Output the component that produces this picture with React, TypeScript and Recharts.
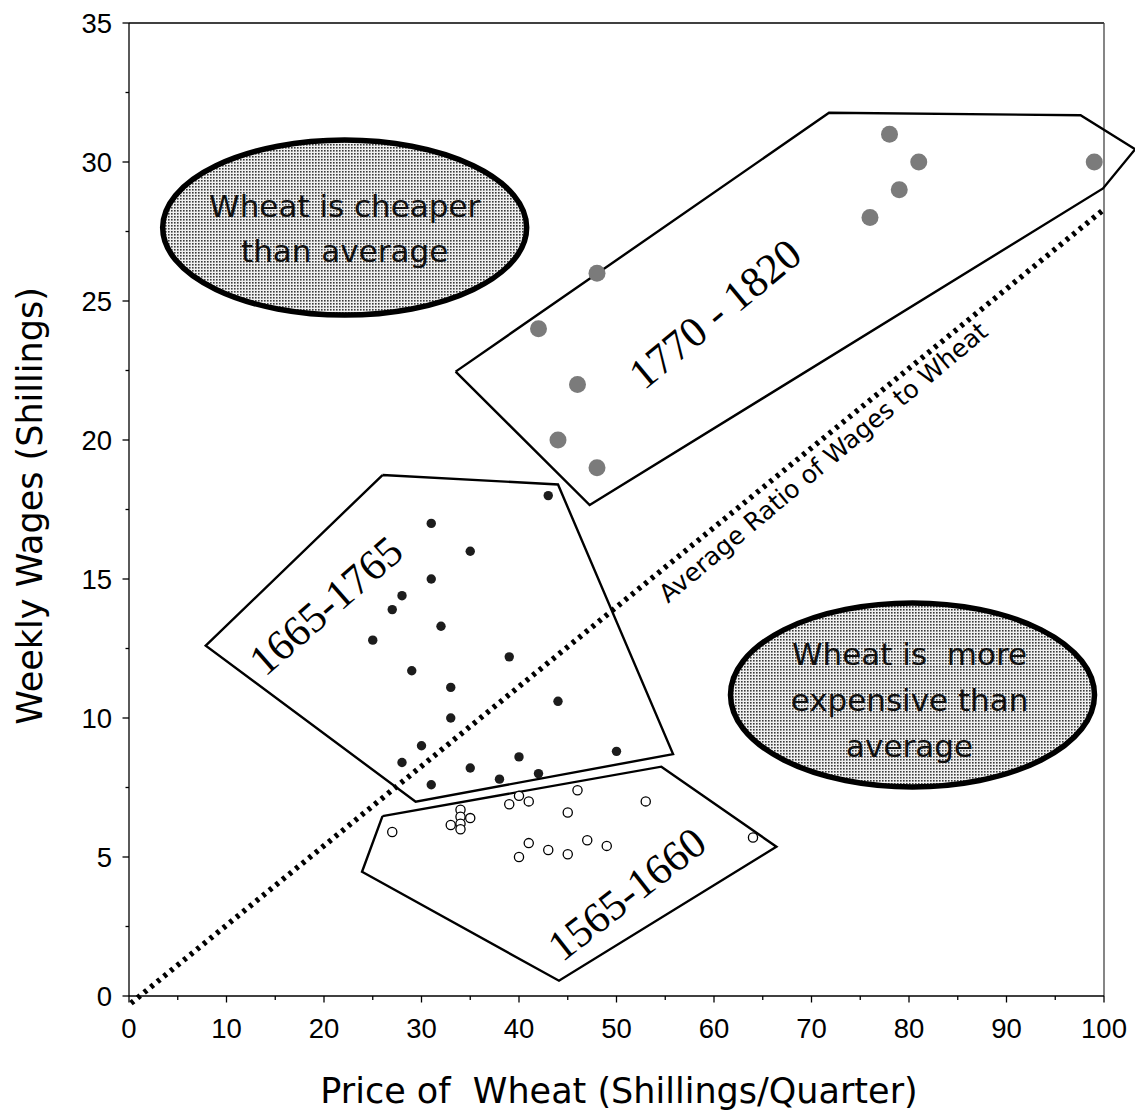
import React from 'react';
import { ScatterChart, Scatter, XAxis, YAxis, ReferenceLine, ReferenceDot } from 'recharts';

const W = 1135;
const H = 1113;
const TICK_SIZE = 6;
const TICK_MARGIN = 2;

// ---------- axis ticks ----------
const xTicks = [0, 5, 10, 15, 20, 25, 30, 35, 40, 45, 50, 55, 60, 65, 70, 75, 80, 85, 90, 95, 100];
const yTicks = [0, 2.5, 5, 7.5, 10, 12.5, 15, 17.5, 20, 22.5, 25, 27.5, 30, 32.5, 35];

const xTitle = 'Price of  Wheat (Shillings/Quarter)';
const yTitle = 'Weekly Wages (Shillings)';

// ---------- series: (price of wheat, weekly wages) ----------
const period1565 = [
  { x: 27, y: 5.9 }, { x: 33, y: 6.15 }, { x: 34, y: 6.7 }, { x: 34, y: 6.45 },
  { x: 34, y: 6.2 }, { x: 34, y: 6.0 }, { x: 35, y: 6.4 }, { x: 39, y: 6.9 },
  { x: 40, y: 7.2 }, { x: 41, y: 7.0 }, { x: 46, y: 7.4 }, { x: 45, y: 6.6 },
  { x: 53, y: 7.0 }, { x: 64, y: 5.7 }, { x: 41, y: 5.5 }, { x: 40, y: 5.0 },
  { x: 43, y: 5.25 }, { x: 45, y: 5.1 }, { x: 47, y: 5.6 }, { x: 49, y: 5.4 },
];

const period1665 = [
  { x: 43, y: 18 }, { x: 31, y: 17 }, { x: 35, y: 16 }, { x: 31, y: 15 },
  { x: 28, y: 14.4 }, { x: 27, y: 13.9 }, { x: 32, y: 13.3 }, { x: 25, y: 12.8 },
  { x: 39, y: 12.2 }, { x: 29, y: 11.7 }, { x: 33, y: 11.1 }, { x: 44, y: 10.6 },
  { x: 33, y: 10 }, { x: 30, y: 9 }, { x: 50, y: 8.8 }, { x: 40, y: 8.6 },
  { x: 28, y: 8.4 }, { x: 35, y: 8.2 }, { x: 42, y: 8 }, { x: 38, y: 7.8 },
  { x: 31, y: 7.6 },
];

const period1770 = [
  { x: 42, y: 24 }, { x: 44, y: 20 }, { x: 46, y: 22 }, { x: 48, y: 26 },
  { x: 48, y: 19 }, { x: 76, y: 28 }, { x: 78, y: 31 }, { x: 79, y: 29 },
  { x: 81, y: 30 }, { x: 99, y: 30 },
];

// ---------- hand-drawn outlines around each period ----------
const hull1565 = [
  { x: 26, y: 6.47 }, { x: 54.6, y: 8.25 }, { x: 66.4, y: 5.37 },
  { x: 44.1, y: 0.55 }, { x: 23.9, y: 4.47 }, { x: 26, y: 6.47 },
];
const hull1665 = [
  { x: 26, y: 18.74 }, { x: 44, y: 18.4 }, { x: 55.8, y: 8.7 },
  { x: 29.4, y: 6.99 }, { x: 7.87, y: 12.6 }, { x: 26, y: 18.74 },
];
const hull1770 = [
  { x: 33.5, y: 22.46 }, { x: 71.8, y: 31.77 }, { x: 97.6, y: 31.68 },
  { x: 103.2, y: 30.46 }, { x: 99.9, y: 29.05 }, { x: 47.25, y: 17.66 },
  { x: 33.5, y: 22.46 },
];

// ---------- average ratio line ----------
const avgRatioSegment = [{ x: 0.2, y: -0.26 }, { x: 100, y: 28.3 }];
const avgRatioLabel = { x: 71.2, y: 19.2, text: 'Average Ratio of Wages to Wheat' };

// ---------- annotations ----------
const periodLabels = [
  { x: 60.07, y: 24.56, text: '1770 - 1820' },
  { x: 20.15, y: 14.06, text: '1665-1765' },
  { x: 51.02, y: 3.69, text: '1565-1660' },
];
const periodAngles = [-39.5, -41, -38];

const bubbleNotes = [
  { x: 22.12, y: 27.64, lines: ['Wheat is cheaper', 'than average'] },
  { x: 80.36, y: 10.83, lines: ['Wheat is  more', 'expensive than', 'average'] },
];
const bubbleStyles = [
  { rx: 182, ry: 87.5, offsets: [-10.8, 34.2], dx: 0 },
  { rx: 182, ry: 92, offsets: [-30, 16.5, 62.5], dx: -3 },
];

const COMIC = "'Comic Sans MS', 'DejaVu Sans', sans-serif";
const ARIAL = "'Liberation Sans', Arial, sans-serif";
const SERIF = "'Liberation Serif', 'Times New Roman', serif";

const XTick = (props: any) => {
  const { x, y, payload } = props;
  const v = payload.value as number;
  const major = v % 10 === 0;
  const axisY = y - TICK_SIZE - TICK_MARGIN;
  return (
    <g>
      <line x1={x} x2={x} y1={axisY} y2={axisY + (major ? 6.5 : 4)} stroke="#000" strokeWidth={1.3} />
      {major && (
        <text x={x} y={axisY + 42} textAnchor="middle" fontFamily={ARIAL} fontSize={27.5} fill="#000">
          {v}
        </text>
      )}
    </g>
  );
};

const YTick = (props: any) => {
  const { x, y, payload } = props;
  const v = payload.value as number;
  const major = v % 5 === 0;
  const axisX = x + TICK_SIZE + TICK_MARGIN;
  return (
    <g>
      <line x1={axisX - (major ? 6.5 : 3.5)} x2={axisX} y1={y} y2={y} stroke="#000" strokeWidth={1.3} />
      {major && (
        <text x={axisX - 17} y={y + 9.7} textAnchor="end" fontFamily={ARIAL} fontSize={27.5} fill="#000">
          {v}
        </text>
      )}
    </g>
  );
};

const XTitle = () => (
  <text x={619} y={1103} textAnchor="middle" fontFamily={COMIC} fontSize={35} fill="#000" style={{ whiteSpace: 'pre' }}>
    {xTitle}
  </text>
);

const YTitle = () => (
  <text
    x={42}
    y={506}
    textAnchor="middle"
    fontFamily={COMIC}
    fontSize={35}
    fill="#000"
    transform="rotate(-90 42 506)"
  >
    {yTitle}
  </text>
);

const NoDot = () => <g />;
const OpenDot = (p: any) => <circle cx={p.cx} cy={p.cy} r={4.6} fill="#fff" stroke="#000" strokeWidth={1.3} />;
const BlackDot = (p: any) => <circle cx={p.cx} cy={p.cy} r={4.7} fill="#1c1c1c" />;
const GreyDot = (p: any) => <circle cx={p.cx} cy={p.cy} r={8.5} fill="#7b7b7b" />;

const Bubble = ({ cx, cy, lines, idx }: any) => {
  const s = bubbleStyles[idx];
  const pid = `halftone-${idx}`;
  return (
    <g>
      <defs>
        <pattern id={pid} width="3" height="3" patternUnits="userSpaceOnUse">
          <rect width="3" height="3" fill="#f0f0f0" />
          <rect width="1.6" height="1.6" fill="#3a3a3a" />
        </pattern>
      </defs>
      <ellipse cx={cx} cy={cy} rx={s.rx} ry={s.ry} fill={`url(#${pid})`} stroke="#000" strokeWidth={5.5} />
      <text fontFamily={COMIC} fontSize={31} fill="#111" textAnchor="middle" style={{ whiteSpace: 'pre' }}>
        {lines.map((l: string, i: number) => (
          <tspan key={i} x={cx + s.dx} y={cy + s.offsets[i]}>
            {l}
          </tspan>
        ))}
      </text>
    </g>
  );
};

const RotatedText = ({ cx, cy, text, angle, fontFamily, fontSize, fontWeight }: any) => (
  <text
    x={cx}
    y={cy}
    dy="0.35em"
    textAnchor="middle"
    fontFamily={fontFamily}
    fontSize={fontSize}
    fontWeight={fontWeight}
    fill="#000"
    transform={`rotate(${angle} ${cx} ${cy})`}
  >
    {text}
  </text>
);

export default function App() {
  return (
    <div style={{ position: 'absolute', left: 0, top: 0, width: W, height: H, background: '#fff' }}>
      <style>{`.hull-no-clip, .hull-no-clip * { clip-path: none !important; }`}</style>
      <ScatterChart width={W} height={H} margin={{ top: 23, right: 31, bottom: 57, left: 49 }}>
        <XAxis
          type="number"
          dataKey="x"
          domain={[0, 100]}
          ticks={xTicks}
          interval={0}
          allowDataOverflow
          tick={(p: any) => <XTick {...p} />}
          tickLine={false}
          tickSize={TICK_SIZE}
          tickMargin={TICK_MARGIN}
          axisLine={{ stroke: '#000', strokeWidth: 1.3 }}
          height={60}
          label={{ content: () => <XTitle /> }}
        />
        <YAxis
          type="number"
          dataKey="y"
          domain={[0, 35]}
          ticks={yTicks}
          interval={0}
          tick={(p: any) => <YTick {...p} />}
          tickLine={false}
          tickSize={TICK_SIZE}
          tickMargin={TICK_MARGIN}
          axisLine={{ stroke: '#000', strokeWidth: 1.3 }}
          width={80}
          label={{ content: () => <YTitle /> }}
        />
        <ReferenceLine y={35} stroke="#000" strokeWidth={1.3} />
        <ReferenceLine x={100} stroke="#444" strokeWidth={1.3} />
        <ReferenceLine
          segment={avgRatioSegment}
          ifOverflow="visible"
          stroke="#000"
          strokeWidth={5.5}
          strokeDasharray="3.5 5"
        />
        {bubbleNotes.map((b, i) => (
          <ReferenceDot
            key={`b${i}`}
            x={b.x}
            y={b.y}
            r={0}
            shape={(p: any) => <Bubble cx={p.cx} cy={p.cy} lines={b.lines} idx={i} />}
          />
        ))}
        <Scatter data={hull1565} shape={NoDot} line={{ stroke: '#000', strokeWidth: 2.4 }} lineType="joint" isAnimationActive={false} />
        <Scatter data={hull1665} shape={NoDot} line={{ stroke: '#000', strokeWidth: 2.4 }} lineType="joint" isAnimationActive={false} />
        <Scatter
          data={hull1770}
          shape={NoDot}
          line={{ stroke: '#000', strokeWidth: 2.4 }}
          lineType="joint"
          className="hull-no-clip"
          isAnimationActive={false}
        />
        <Scatter data={period1565} shape={OpenDot} isAnimationActive={false} />
        <Scatter data={period1665} shape={BlackDot} isAnimationActive={false} />
        <Scatter data={period1770} shape={GreyDot} isAnimationActive={false} />
        {periodLabels.map((l, i) => (
          <ReferenceDot
            key={`p${i}`}
            x={l.x}
            y={l.y}
            r={0}
            shape={(p: any) => (
              <RotatedText cx={p.cx} cy={p.cy} text={l.text} angle={periodAngles[i]} fontFamily={SERIF} fontSize={43} />
            )}
          />
        ))}
        <ReferenceDot
          x={avgRatioLabel.x}
          y={avgRatioLabel.y}
          r={0}
          shape={(p: any) => (
            <RotatedText cx={p.cx} cy={p.cy} text={avgRatioLabel.text} angle={-40} fontFamily={COMIC} fontSize={25} />
          )}
        />
      </ScatterChart>
    </div>
  );
}
